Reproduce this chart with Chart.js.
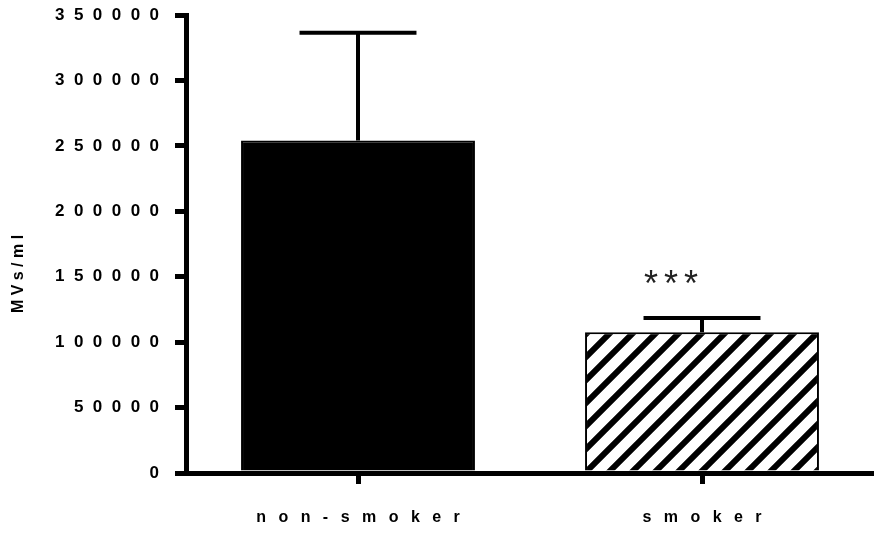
<!DOCTYPE html>
<html>
<head>
<meta charset="utf-8">
<script src="https://cdn.jsdelivr.net/npm/chart.js@4/dist/chart.umd.min.js"></script>
<style>
  html, body { margin: 0; padding: 0; background: #fff; }
  #wrap { width: 874px; height: 534px; }
</style>
</head>
<body>
<div id="wrap"><canvas id="mvChart" width="874" height="534"></canvas></div>
<script>
/* ---- data ---- */
const categories = ["non-smoker", "smoker"];
const meanValues = [254000, 107500];
const errorUp = [82500, 11000];
const significance = ["", "***"];
const yMax = 350000;
const yStep = 50000;
const yTitle = "MVs/ml";

const FONT = "'Liberation Sans', Arial, sans-serif";

/* ---- spaced-out text like the original ---- */
function spaced(str, sep) {
  return String(str).split("").join(sep);
}

/* ---- diagonal hatch for the smoker bar ---- */
function makeHatch() {
  const size = 23;
  const c = document.createElement("canvas");
  c.width = size; c.height = size;
  const g = c.getContext("2d");
  g.fillStyle = "#fff";
  g.fillRect(0, 0, size, size);
  g.strokeStyle = "#000";
  g.lineWidth = 6;
  g.beginPath();
  g.moveTo(-size, size * 2); g.lineTo(size * 2, -size);
  g.moveTo(-size * 2, size * 2); g.lineTo(size, -size);
  g.moveTo(0, size * 2); g.lineTo(size * 3, -size);
  g.stroke();
  return c.getContext("2d").createPattern(c, "repeat");
}

/* ---- error bars, stars and the y title ---- */
const extras = {
  id: "extras",
  afterDatasetsDraw(chart) {
    const ctx = chart.ctx;
    const y = chart.scales.y;
    const meta = chart.getDatasetMeta(0);
    ctx.save();
    ctx.strokeStyle = "#000";
    ctx.lineWidth = 4;
    meta.data.forEach((bar, i) => {
      const top = y.getPixelForValue(meanValues[i] + errorUp[i]);
      const half = bar.width / 4;
      ctx.beginPath();
      ctx.moveTo(bar.x, bar.y);
      ctx.lineTo(bar.x, top);
      ctx.moveTo(bar.x - half, top);
      ctx.lineTo(bar.x + half, top);
      ctx.stroke();
      if (significance[i]) {
        ctx.fillStyle = "#222";
        ctx.font = "36px " + FONT;
        ctx.textAlign = "center";
        ctx.textBaseline = "alphabetic";
        ctx.fillText(spaced(significance[i], "\u2006"), bar.x - 31, top - 22);
      }
    });
    // rotated axis title, sits a bit below the middle like the original
    ctx.translate(19, (chart.chartArea.top + chart.chartArea.bottom) / 2 + 30);
    ctx.rotate(-Math.PI / 2);
    ctx.fillStyle = "#000";
    ctx.font = "bold 16px " + FONT;
    ctx.textAlign = "center";
    ctx.textBaseline = "middle";
    ctx.fillText(spaced(yTitle, " "), 0, 0);
    ctx.restore();
  }
};

new Chart(document.getElementById("mvChart"), {
  type: "bar",
  data: {
    labels: categories,
    datasets: [{
      label: yTitle,
      data: meanValues,
      backgroundColor: ["#000", makeHatch()],
      borderColor: "#000",
      borderWidth: 2,
      barPercentage: 0.68,
      categoryPercentage: 1
    }]
  },
  options: {
    responsive: false,
    animation: false,
    layout: { padding: { top: 0, right: 0, left: 0, bottom: 0 } },
    plugins: {
      legend: { display: false },
      tooltip: { enabled: false }
    },
    scales: {
      x: {
        afterFit: s => { s.height = 61; },
        grid: {
          offset: false,
          drawOnChartArea: false,
          color: "#000",
          lineWidth: 5,
          tickLength: 11
        },
        border: { color: "#000", width: 5 },
        ticks: {
          color: "#000",
          padding: 24,
          maxRotation: 0,
          font: { family: FONT, size: 16, weight: "bold" },
          callback: function (v, i) { return spaced(categories[i], " \u2002"); }
        }
      },
      y: {
        min: 0,
        max: yMax,
        afterFit: s => { s.width = 186; s.paddingTop = 15; },
        grid: {
          drawOnChartArea: false,
          color: "#000",
          lineWidth: 5,
          tickLength: 11
        },
        border: { color: "#000", width: 5 },
        ticks: {
          stepSize: yStep,
          color: "#000",
          padding: 16,
          font: { family: FONT, size: 17, weight: "bold", lineHeight: 0.6 },
          callback: v => spaced(v, "\u2007")
        }
      }
    }
  },
  plugins: [extras]
});
</script>
</body>
</html>
